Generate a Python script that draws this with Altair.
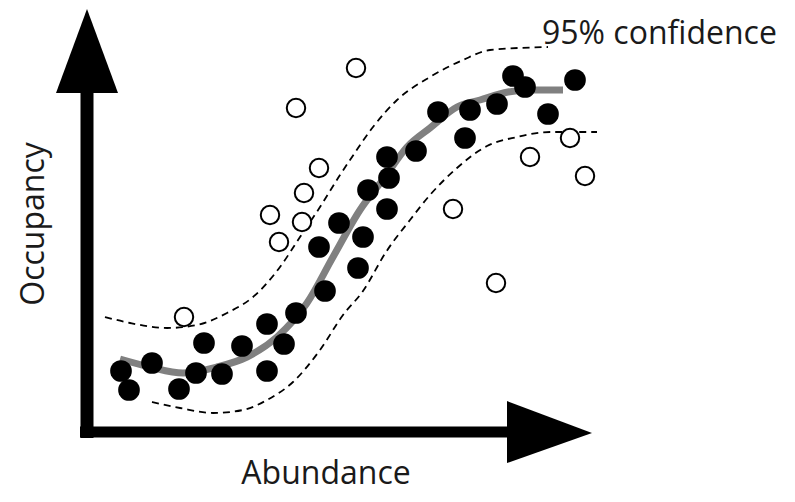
import altair as alt
import pandas as pd

# ---- data (Abundance / Occupancy in arbitrary units, origin at the axes corner)
filled_x = [34, 42, 65, 92, 109, 117, 135, 155, 180, 180, 197, 209, 232, 238, 252, 271, 276, 281,
            300, 302, 300, 329, 351, 378, 383, 410, 426, 438, 461, 488]
filled_y = [61, 42, 69, 43, 59, 89, 58, 86, 108, 61, 88, 119, 185, 141, 209, 164, 195, 242,
            275, 254, 223, 281, 320, 294, 322, 328, 356, 345, 318, 352]

open_x = [97, 183, 192, 215, 217, 232, 209, 269, 366, 409, 443, 483, 498]
open_y = [115, 217, 190, 210, 239, 264, 324, 364, 223, 149, 275, 294, 256]

fit_x = [33, 63, 96, 130, 160, 190, 220, 246, 273, 298, 320, 343, 370, 393, 421, 443, 476]
fit_y = [73, 65, 59, 65, 75, 95, 129, 175, 222, 255, 285, 304, 325, 332, 340, 342, 342]

upper_x = [18, 43, 80, 110, 140, 166, 193, 213, 233, 253, 263, 286, 310, 343, 376, 403, 461]
upper_y = [115, 109, 104, 107, 119, 135, 165, 195, 225, 257, 272, 305, 332, 355, 372, 382, 385]

lower_x = [65, 93, 126, 156, 180, 206, 233, 256, 276, 299, 323, 343, 370, 400, 430, 463, 510]
lower_y = [30, 24, 19, 22, 32, 50, 82, 117, 141, 180, 212, 237, 264, 286, 295, 300, 300]

x_label = "Abundance"
y_label = "Occupancy"
band_label = "95% confidence"

# ---- layout constants (data units)
X_DOMAIN = [-79, 700]
Y_DOMAIN = [-62, 424]
Y_AXIS_TOP = 340
X_AXIS_END = 421
UP_HEAD = {"base": 339, "tip": 423, "half": 31}
RIGHT_HEAD = {"base": 420, "tip": 505, "half": 31}

xs = alt.Scale(domain=X_DOMAIN, nice=False, zero=False)
ys = alt.Scale(domain=Y_DOMAIN, nice=False, zero=False)

filled_df = pd.DataFrame({"x": filled_x, "y": filled_y})
open_df = pd.DataFrame({"x": open_x, "y": open_y})
fit_df = pd.DataFrame({"x": fit_x, "y": fit_y})
upper_df = pd.DataFrame({"x": upper_x, "y": upper_y})
lower_df = pd.DataFrame({"x": lower_x, "y": lower_y})

X = lambda f="x": alt.X(f"{f}:Q", scale=xs, axis=None)
Y = lambda f="y": alt.Y(f"{f}:Q", scale=ys, axis=None)

bars_df = pd.DataFrame({
    "x": [0, -7], "x2": [0, X_AXIS_END],
    "y": [-6, 0], "y2": [Y_AXIS_TOP, 0],
    "w": [13, 11],
})
bars = alt.Chart(bars_df).mark_rule(color="black", strokeCap="butt").encode(
    x=X(), x2="x2", y=Y(), y2="y2",
    strokeWidth=alt.StrokeWidth("w:Q", scale=None),
)

up_df = pd.DataFrame({
    "y": [UP_HEAD["base"], UP_HEAD["tip"]],
    "x": [-UP_HEAD["half"], 0],
    "x2": [UP_HEAD["half"], 0],
})
up_head = alt.Chart(up_df).mark_area(orient="horizontal", color="black").encode(
    y=Y(), x=X(), x2="x2"
)

right_df = pd.DataFrame({
    "x": [RIGHT_HEAD["base"], RIGHT_HEAD["tip"]],
    "y": [RIGHT_HEAD["half"], -1],
    "y2": [-RIGHT_HEAD["half"], -1],
})
right_head = alt.Chart(right_df).mark_area(orient="vertical", color="black").encode(
    x=X(), y=Y(), y2="y2"
)

dash = dict(color="black", strokeWidth=1.8, strokeDash=[7, 5], interpolate="monotone")
upper = alt.Chart(upper_df).mark_line(**dash).encode(x=X(), y=Y())
lower = alt.Chart(lower_df).mark_line(**dash).encode(x=X(), y=Y())

fit = alt.Chart(fit_df).mark_line(color="#808080", strokeWidth=7, strokeCap="butt",
                                  interpolate="monotone").encode(x=X(), y=Y())

opens = alt.Chart(open_df).mark_point(shape="circle", filled=False, fill="white", fillOpacity=1,
                                      stroke="black", strokeWidth=2, size=340, opacity=1).encode(
    x=X(), y=Y())
fills = alt.Chart(filled_df).mark_point(shape="circle", filled=True, color="black", size=470,
                                        opacity=1).encode(x=X(), y=Y())

font = dict(font="Open Sans", fontSize=32, color="#1a1a1a")
t_x = alt.Chart().mark_text(align="center", baseline="alphabetic", **font).encode(
    x=alt.datum(239, scale=xs), y=alt.datum(-52, scale=ys), text=alt.value(x_label))
t_y = alt.Chart().mark_text(align="center", baseline="alphabetic", angle=270, **font).encode(
    x=alt.datum(-43.5, scale=xs), y=alt.datum(208, scale=ys), text=alt.value(y_label))
t_b = alt.Chart().mark_text(align="left", baseline="alphabetic", **font).encode(
    x=alt.datum(455, scale=xs), y=alt.datum(388.5, scale=ys), text=alt.value(band_label))

chart = alt.layer(
    upper, lower, fit, bars, up_head, right_head, opens, fills, t_x, t_y, t_b
).properties(
    width=779, height=486, autosize=alt.AutoSizeParams(type="none"), padding=0
).configure_view(stroke=None)

chart.save("out.html", embed_options={"renderer": "svg", "actions": False})
